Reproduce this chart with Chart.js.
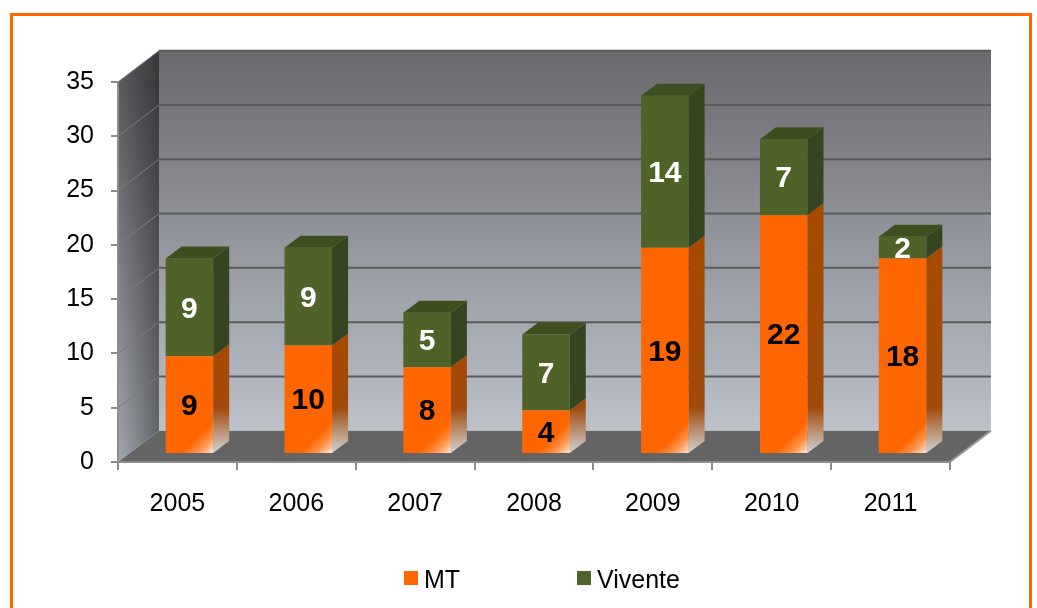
<!DOCTYPE html>
<html><head><meta charset="utf-8">
<script src="https://cdn.jsdelivr.net/npm/chart.js@4"></script>
<style>html,body{margin:0;padding:0;background:#fff}#wrap{width:1037px;height:608px;position:relative}</style>
</head><body><div id="wrap"><canvas id="c" width="1037" height="608"></canvas></div>
<script>
const categories = ['2005','2006','2007','2008','2009','2010','2011'];
const mtValues = [9,10,8,4,19,22,18];
const viventeValues = [9,9,5,7,14,7,2];
const seriesNames = ['MT','Vivente'];
const yTicks = [0,5,10,15,20,25,30,35];

const FONT = "'Liberation Sans', Arial, sans-serif";
const WALL_DX = 41, WALL_DY = -31.3;
const BAR_DX = 12, BAR_DY = -8;
const DEPTH_X = 16, DEPTH_Y = -12;

const scene3d = {
  id: 'scene3d',
  beforeDraw(chart) {
    const ctx = chart.ctx, a = chart.chartArea, ys = chart.scales.y;
    ctx.save();
    ctx.strokeStyle = '#ff6600'; ctx.lineWidth = 3;
    ctx.strokeRect(11.5, 14.5, 1019, 700);
    let g = ctx.createLinearGradient(0, a.top + WALL_DY, 0, a.bottom + WALL_DY);
    g.addColorStop(0, '#68696d'); g.addColorStop(0.5, '#93969c'); g.addColorStop(1, '#bcc1ca');
    ctx.fillStyle = g;
    ctx.fillRect(a.left + WALL_DX, a.top + WALL_DY, a.right - a.left, a.bottom - a.top);
    g = ctx.createLinearGradient(0, a.top, 0, a.bottom);
    g.addColorStop(0, '#5a5b5f'); g.addColorStop(1, '#a3a7ae');
    ctx.beginPath();
    ctx.moveTo(a.left, a.top); ctx.lineTo(a.left + WALL_DX, a.top + WALL_DY);
    ctx.lineTo(a.left + WALL_DX, a.bottom + WALL_DY); ctx.lineTo(a.left, a.bottom); ctx.closePath();
    ctx.fillStyle = g; ctx.fill();
    g = ctx.createLinearGradient(a.left, 0, a.left + WALL_DX, 0);
    g.addColorStop(0, 'rgba(0,0,0,0)'); g.addColorStop(1, 'rgba(0,0,0,0.38)');
    ctx.fillStyle = g; ctx.fill();
    ctx.beginPath();
    ctx.moveTo(a.left, a.bottom); ctx.lineTo(a.right, a.bottom);
    ctx.lineTo(a.right + WALL_DX, a.bottom + WALL_DY); ctx.lineTo(a.left + WALL_DX, a.bottom + WALL_DY);
    ctx.closePath(); ctx.fillStyle = '#646464'; ctx.fill();
    ctx.strokeStyle = '#9a9a9a'; ctx.lineWidth = 2;
    ctx.beginPath(); ctx.moveTo(a.right, a.bottom); ctx.lineTo(a.right + WALL_DX, a.bottom + WALL_DY); ctx.stroke();
    yTicks.forEach(v => {
      if (v === 0) return;
      const y = ys.getPixelForValue(v);
      ctx.strokeStyle = '#5a5a5a'; ctx.lineWidth = 2;
      ctx.beginPath(); ctx.moveTo(a.left + WALL_DX, y + WALL_DY); ctx.lineTo(a.right + WALL_DX, y + WALL_DY); ctx.stroke();
      ctx.strokeStyle = '#7a7b7f'; ctx.lineWidth = 1;
      ctx.beginPath(); ctx.moveTo(a.left, y); ctx.lineTo(a.left + WALL_DX, y + WALL_DY); ctx.stroke();
    });
    ctx.restore();
  },
  beforeDatasetsDraw(chart) {
    chart.ctx.save();
    chart.ctx.translate(BAR_DX, BAR_DY);
  },
  afterDatasetsDraw(chart) {
    const ctx = chart.ctx;
    const nSets = chart.data.datasets.length;
    const sideColors = ['#a84a00', '#354520'];
    for (let d = 0; d < nSets; d++) {
      const meta = chart.getDatasetMeta(d);
      meta.data.forEach((el, i) => {
        const p = el.getProps(['x', 'y', 'base', 'width'], true);
        const l = p.x - p.width / 2, r = p.x + p.width / 2;
        const top = Math.min(p.y, p.base), bot = Math.max(p.y, p.base);
        let sg;
        if (d === 0) {
          sg = ctx.createLinearGradient(0, top + DEPTH_Y, 0, bot);
          const h = bot - (top + DEPTH_Y);
          sg.addColorStop(0, '#a84a00');
          sg.addColorStop(Math.max(0, 1 - 45 / h), '#a04a0c');
          sg.addColorStop(1, '#d2d2d2');
        } else sg = sideColors[d];
        ctx.beginPath();
        ctx.moveTo(r, top); ctx.lineTo(r + DEPTH_X, top + DEPTH_Y);
        ctx.lineTo(r + DEPTH_X, bot + DEPTH_Y); ctx.lineTo(r, bot); ctx.closePath();
        ctx.fillStyle = sg; ctx.fill();
        if (d === nSets - 1) {
          ctx.beginPath();
          ctx.moveTo(l, top); ctx.lineTo(l + DEPTH_X, top + DEPTH_Y);
          ctx.lineTo(r + DEPTH_X, top + DEPTH_Y); ctx.lineTo(r, top); ctx.closePath();
          ctx.fillStyle = '#3d4f1f'; ctx.fill();
        }
        if (d === 0) {
          const hg = ctx.createLinearGradient(r, bot, r - 16, bot - 16);
          hg.addColorStop(0, 'rgba(255,255,255,0.85)');
          hg.addColorStop(0.5, 'rgba(255,255,255,0.3)');
          hg.addColorStop(1, 'rgba(255,255,255,0)');
          ctx.fillStyle = hg;
          ctx.fillRect(l, top, r - l, bot - top);
        }
      });
    }
    ctx.font = 'bold 30px ' + FONT;
    ctx.textAlign = 'center'; ctx.textBaseline = 'middle';
    for (let d = 0; d < nSets; d++) {
      const meta = chart.getDatasetMeta(d);
      const vals = chart.data.datasets[d].data;
      meta.data.forEach((el, i) => {
        const p = el.getProps(['x', 'y', 'base'], true);
        ctx.fillStyle = d === 0 ? '#000' : '#fff';
        ctx.fillText(String(vals[i]), p.x, (p.y + p.base) / 2 + 2);
      });
    }
    ctx.restore();
  },
  afterDraw(chart) {
    const ctx = chart.ctx;
    const items = [
      {x: 404, color: chart.data.datasets[0].backgroundColor, text: chart.data.datasets[0].label},
      {x: 577, color: chart.data.datasets[1].backgroundColor, text: chart.data.datasets[1].label}
    ];
    ctx.save();
    ctx.font = '25px ' + FONT; ctx.textBaseline = 'alphabetic'; ctx.textAlign = 'left';
    items.forEach(it => {
      ctx.fillStyle = it.color; ctx.fillRect(it.x, 571, 14, 14);
      ctx.fillStyle = '#000'; ctx.fillText(it.text, it.x + 20, 588);
    });
    ctx.restore();
  }
};

new Chart(document.getElementById('c'), {
  type: 'bar',
  data: {
    labels: categories,
    datasets: [
      {label: seriesNames[0], data: mtValues, backgroundColor: '#ff6600', borderWidth: 0, barPercentage: 0.4, categoryPercentage: 1},
      {label: seriesNames[1], data: viventeValues, backgroundColor: '#4f6228', borderWidth: 0, barPercentage: 0.4, categoryPercentage: 1}
    ]
  },
  options: {
    responsive: false,
    devicePixelRatio: 1,
    animation: false,
    layout: {padding: {left: 0, top: 82, right: 87, bottom: 86}},
    plugins: {legend: {display: false}, tooltip: {enabled: false}},
    scales: {
      x: {
        stacked: true, offset: true,
        grid: {offset: true, drawOnChartArea: false, drawTicks: true, tickLength: 8, color: '#8c8c8c', lineWidth: 2},
        border: {display: true, color: '#8c8c8c', width: 2},
        ticks: {color: '#000', font: {family: FONT, size: 25}, padding: 19, maxRotation: 0},
        afterFit(s) { s.height = 60; }
      },
      y: {
        stacked: true, min: 0, max: 35,
        afterBuildTicks(s) { s.ticks = yTicks.map(v => ({value: v})); },
        grid: {drawOnChartArea: false, drawTicks: true, tickLength: 7, color: '#8c8c8c', lineWidth: 2},
        border: {display: true, color: '#8c8c8c', width: 2},
        ticks: {color: '#000', font: {family: FONT, size: 25}, padding: 17},
        afterFit(s) { s.width = 118; }
      }
    }
  },
  plugins: [scene3d]
});
</script>
</body></html>
